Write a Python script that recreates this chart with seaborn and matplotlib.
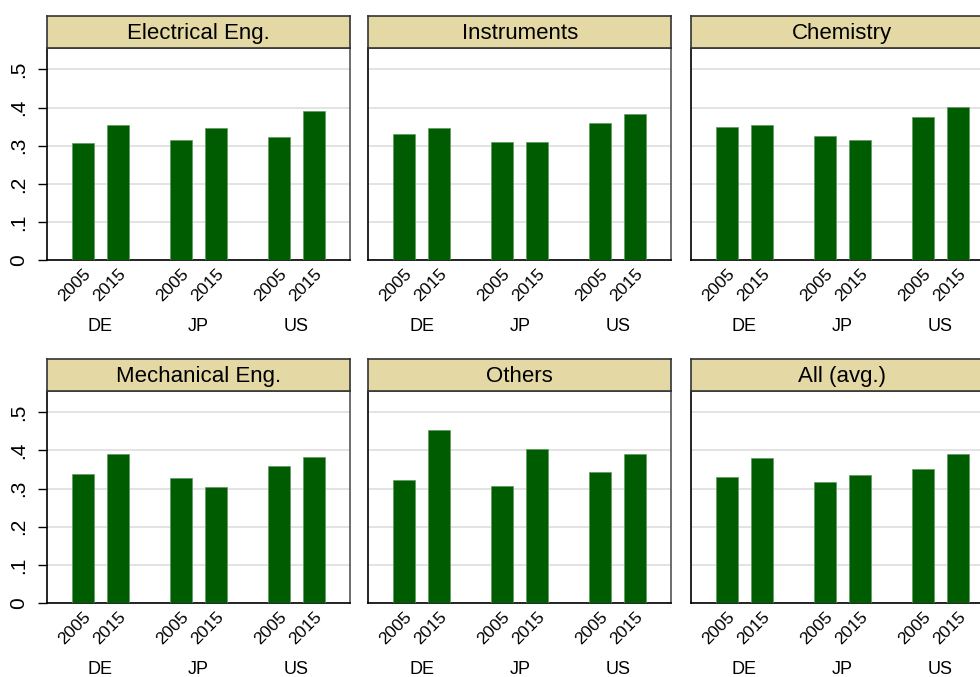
import matplotlib
matplotlib.use("Agg")
import matplotlib.pyplot as plt
import seaborn as sns
import pandas as pd

# Share values by technology field, country and year
fields = ["Electrical Eng.", "Instruments", "Chemistry",
          "Mechanical Eng.", "Others", "All (avg.)"]
countries = ["DE", "JP", "US"]
years = ["2005", "2015"]

electrical = [0.308, 0.354, 0.314, 0.347, 0.324, 0.391]
instruments = [0.331, 0.346, 0.311, 0.310, 0.359, 0.382]
chemistry = [0.349, 0.353, 0.326, 0.315, 0.375, 0.401]
mechanical = [0.338, 0.391, 0.327, 0.303, 0.358, 0.383]
others = [0.323, 0.453, 0.306, 0.403, 0.342, 0.390]
all_avg = [0.330, 0.379, 0.317, 0.335, 0.352, 0.389]

series = [electrical, instruments, chemistry, mechanical, others, all_avg]

ytick_vals = [0, 0.1, 0.2, 0.3, 0.4, 0.5]
ytick_text = ["0", ".1", ".2", ".3", ".4", ".5"]

sns.set_theme(style="white")
plt.rcParams["font.family"] = ["Liberation Sans", "DejaVu Sans"]
plt.rcParams["text.color"] = "black"
plt.rcParams["xtick.labelcolor"] = "black"
plt.rcParams["ytick.labelcolor"] = "black"

BAR = "#005c00"
STRIP = "#e4d8a4"
GRID = "#e0e0e0"

W, H = 980, 677
fig = plt.figure(figsize=(W / 100, H / 100), dpi=100)

col_left = [46.7, 368.3, 690.5]
panel_w = 303.0
rows = [(16.0, 48.3, 260.3), (359.3, 391.0, 603.3)]  # strip top, plot top, plot bottom


def fx(px):
    return px / W


def fy(px):
    return 1 - px / H


for k, (field, vals) in enumerate(zip(fields, series)):
    r, c = divmod(k, 3)
    s_top, p_top, p_bot = rows[r]
    x0 = col_left[c]

    ax = fig.add_axes([fx(x0), fy(p_bot), panel_w / W, (p_bot - p_top) / H])
    df = pd.DataFrame({
        "country": [cn for cn in countries for _ in years],
        "year": [yr for _ in countries for yr in years],
        "value": vals,
    })
    sns.barplot(data=df, x="country", y="value", hue="year",
                order=countries, hue_order=years,
                palette={y: BAR for y in years}, saturation=1,
                width=0.714, gap=0.371, errorbar=None, legend=False,
                edgecolor="#5f9a5f", linewidth=0.5, ax=ax, zorder=3)

    ax.set_xlim(-0.547, 2.545)
    ax.set_ylim(0, 0.555)
    ax.set_xlabel("")
    ax.set_ylabel("")

    # grid lines
    ax.set_yticks(ytick_vals)
    ax.yaxis.grid(True, color=GRID, linewidth=1.3, zorder=0)
    ax.set_axisbelow(True)

    # year labels under each bar
    bars = sorted(ax.patches, key=lambda p: p.get_x())
    centers = [p.get_x() + p.get_width() / 2 for p in bars]
    ax.set_xticks(centers)
    ax.set_xticklabels([yr for _ in countries for yr in years],
                       rotation=45, ha="right", rotation_mode="anchor",
                       fontsize=12.5, color="black")
    ax.tick_params(axis="x", length=0, pad=4)

    # country labels under each group
    for i, cn in enumerate(countries):
        ax.annotate(cn, xy=(i, 0), xycoords=("data", "axes fraction"),
                    xytext=(0, -47.5), textcoords="offset points",
                    ha="center", va="center", fontsize=13, color="black",
                    annotation_clip=False)

    if c == 0:
        ax.set_yticklabels(ytick_text, fontsize=15, color="black")
        ax.tick_params(axis="y", left=True, length=6.3, width=1.0,
                       color="black", pad=7, labelrotation=90)
        for lab in ax.get_yticklabels():
            lab.set_va("center")
    else:
        ax.tick_params(axis="y", left=False, labelleft=False)

    for side in ["left", "bottom"]:
        ax.spines[side].set_color("black")
        ax.spines[side].set_linewidth(1.2)
    for side in ["right", "top"]:
        ax.spines[side].set_color("#555555")
        ax.spines[side].set_linewidth(1.2)

    # field title strip
    sax = fig.add_axes([fx(x0), fy(p_top), panel_w / W, (p_top - s_top) / H])
    sax.set_facecolor(STRIP)
    sax.set_xticks([])
    sax.set_yticks([])
    for sp in sax.spines.values():
        sp.set_color("#333333")
        sp.set_linewidth(1.2)
    sax.text(0.5, 0.47, field, ha="center", va="center", fontsize=16,
             color="black", transform=sax.transAxes)

fig.savefig("out.png", dpi=100, facecolor="white")
